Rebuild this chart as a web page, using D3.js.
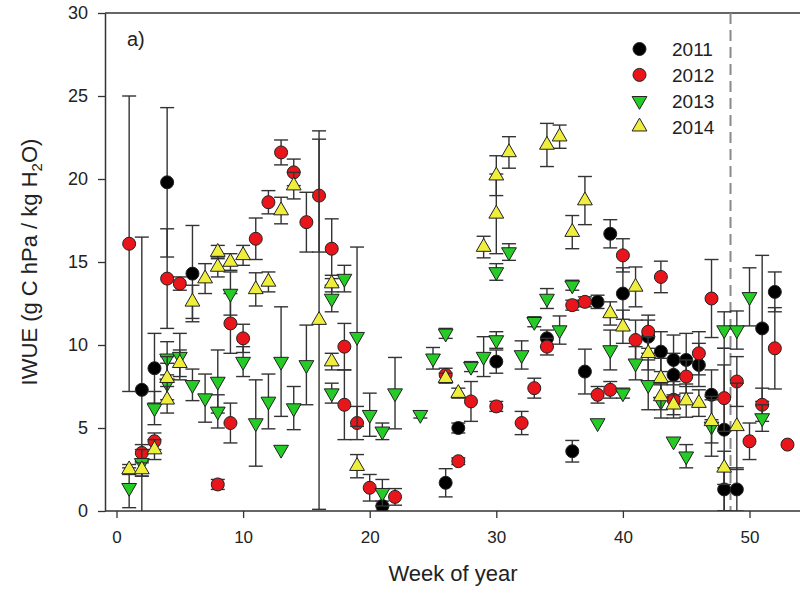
<!DOCTYPE html>
<html>
<head>
<meta charset="utf-8">
<script src="https://cdn.jsdelivr.net/npm/d3@7"></script>
<style>
  html, body { margin: 0; padding: 0; background: #fff; }
  svg { display: block; font-family: "Liberation Sans", Arial, sans-serif; }
</style>
</head>
<body>
<div id="chart"></div>
<script>
// weekly IWUE per year: week, mean, error
const wk2011 = [2,3,4,6,21,26,27,30,34,36,37,38,39,40,42,43,44,44,45,46,47,48,48,49,51,52];
const val2011 = [7.3,8.6,19.8,14.3,0.3,1.7,5.0,9.0,10.4,3.6,8.4,12.6,16.7,13.1,10.5,9.6,9.1,8.2,9.1,8.8,7.0,4.9,1.3,1.3,11.0,13.2];
const err2011 = [9.2,2.1,4.5,2.9,0.3,0.85,0.3,0.7,0.5,0.65,1.35,0.4,0.85,1.55,1.0,1.2,1.5,1.3,1.6,1.3,1.5,4.9,1.3,1.3,4.4,1.2];

const wk2012 = [1,2,3,4,5,8,9,9,10,11,12,13,14,15,16,17,18,18,19,20,22,26,27,28,30,32,33,34,36,37,38,39,40,41,42,43,44,45,46,47,48,49,50,51,52,53];
const val2012 = [16.1,3.5,4.2,14.0,13.7,1.6,11.3,5.3,10.4,16.4,18.6,21.6,20.4,17.4,19.0,15.8,9.9,6.4,5.3,1.4,
  0.85,8.2,3.0,6.6,6.3,5.3,7.4,9.9,12.4,12.6,7.0,7.3,15.4,10.3,10.8,14.1,6.7,8.1,9.5,12.8,6.8,7.8,4.2,6.4,9.8,4.0];
const err2012 = [8.9,0.5,0.5,3.0,0.4,0.3,1.8,1.2,0.85,1.25,0.7,0.75,0.8,1.8,3.4,1.8,1.4,2.1,1.0,0.8,
  0.5,0.4,0.2,1.2,0.3,0.7,0.6,0.5,0.3,0.3,0.5,0.5,1.0,1.2,1.0,0.95,1.1,1.0,1.3,2.35,2.0,1.5,1.1,1.0,2.45,0];

const wk2013 = [1,2,3,4,4,5,6,7,8,8,9,10,11,12,13,13,14,15,17,17,18,19,20,21,21,22,24,25,26,28,
  29,30,30,31,32,33,34,35,36,38,39,40,41,42,43,44,45,47,48,49,50,51];
const val2013 = [1.4,2.9,6.2,9.2,7.7,9.3,7.6,6.8,7.8,6.0,13.1,9.0,5.3,6.6,9.0,3.7,6.2,8.8,12.8,7.1,
  14.0,10.5,5.8,4.8,1.1,7.1,5.8,9.2,10.7,8.7,9.3,10.3,14.4,15.6,9.4,11.4,12.8,10.9,13.6,5.3,
  9.7,7.1,8.9,7.6,6.6,4.2,3.3,5.1,10.9,10.9,12.9,5.6];
const err2013 = [1.2,0.8,1.0,1.0,1.2,1.4,0.95,1.45,1.9,1.0,1.3,0.9,2.6,1.65,3.3,0,1.3,2.4,0.8,0.6,
  0.8,5.4,1.3,0.5,0.8,2.15,0.2,0.65,0.3,0.3,1.2,0.5,0.5,0.5,0.85,0.3,0.6,0.85,0.3,0,
  1.2,0.3,1.0,1.5,1.0,0,0.7,1.8,1.1,1.15,1.75,0.8];

const wk2014 = [1,2,3,4,4,5,6,7,8,8,9,10,11,12,13,14,16,17,17,19,26,27,29,30,30,31,34,35,36,37,
  39,40,41,42,43,43,44,45,46,47,48,49];
const val2014 = [2.5,2.5,3.7,8.0,6.7,8.9,12.6,14.0,14.7,15.6,15.0,15.4,13.35,13.8,18.1,19.6,11.5,13.7,9.0,2.7,
  8.0,7.1,15.9,17.9,20.2,21.6,22.05,22.55,16.8,18.7,11.9,11.1,13.5,9.5,8.0,6.9,6.4,6.65,6.5,5.4,2.6,5.1];
const err2014 = [0.3,0.4,0.6,1.3,0.8,0.8,1.0,0.9,0.6,0.4,0.5,0.6,1.0,0.6,0.8,0.8,11.4,0.5,0.5,0.7,
  0.3,0.3,0.65,2.4,1.2,0.95,1.3,0.7,1.0,1.45,0.7,1.0,1.2,1.0,1.2,0.8,0.6,1.0,0.8,1.3,1.0,2.6];

const years = ['2011', '2012', '2013', '2014'];
const xTicks = [0, 10, 20, 30, 40, 50];
const yTicks = [0, 5, 10, 15, 20, 25, 30];
const cutoffWeek = 48.5;

const width = 800, height = 596;
const plotL = 105, plotT = 13, plotB = 511, plotR = 806;

const svg = d3.select('#chart').append('svg')
  .attr('width', width).attr('height', height);

const x = d3.scaleLinear().domain([0, 50]).range([116.5, 749.5]);
const y = d3.scaleLinear().domain([0, 30]).range([plotB, plotT]);

svg.append('clipPath').attr('id', 'plotclip')
  .append('rect').attr('x', plotL).attr('y', plotT).attr('width', plotR - plotL).attr('height', plotB - plotT);

function makeSeries(wk, val, err) {
  return wk.map((w, i) => ({ w: w, v: val[i], e: err[i] }));
}
const series = [
  { name: years[0], data: makeSeries(wk2011, val2011, err2011), shape: 'circle', fill: '#000000' },
  { name: years[1], data: makeSeries(wk2012, val2012, err2012), shape: 'circle', fill: '#e8151b' },
  { name: years[2], data: makeSeries(wk2013, val2013, err2013), shape: 'down', fill: '#26cc26' },
  { name: years[3], data: makeSeries(wk2014, val2014, err2014), shape: 'up', fill: '#f0ee3c' }
];

// frame: top border
svg.append('line')
  .attr('x1', plotL).attr('x2', plotR).attr('y1', plotT).attr('y2', plotT)
  .attr('stroke', '#333').attr('stroke-width', 1.5);

// dashed cut-off line
svg.append('line')
  .attr('x1', x(cutoffWeek)).attr('x2', x(cutoffWeek))
  .attr('y1', plotT).attr('y2', plotB)
  .attr('stroke', '#8a8a8a').attr('stroke-width', 2)
  .attr('stroke-dasharray', '11,6');

const plot = svg.append('g').attr('clip-path', 'url(#plotclip)');
const tri = d3.symbol().type(d3.symbolTriangle).size(95);

function drawMarker(sel, s) {
  if (s.shape === 'circle') {
    sel.append('circle').attr('r', 6.5)
      .attr('fill', s.fill).attr('stroke', '#222').attr('stroke-width', 1);
  } else {
    sel.append('path').attr('d', tri)
      .attr('transform', s.shape === 'down' ? 'rotate(180)' : null)
      .attr('fill', s.fill).attr('stroke', '#222').attr('stroke-width', 1);
  }
}

series.forEach(s => {
  const g = plot.append('g');
  const bars = g.selectAll('.err').data(s.data.filter(d => d.e > 0)).enter()
    .append('g').attr('class', 'err')
    .attr('stroke', '#333').attr('stroke-width', 1.4);
  bars.append('line')
    .attr('x1', d => x(d.w)).attr('x2', d => x(d.w))
    .attr('y1', d => y(d.v - d.e)).attr('y2', d => y(d.v + d.e));
  bars.append('line')
    .attr('x1', d => x(d.w) - 7).attr('x2', d => x(d.w) + 7)
    .attr('y1', d => y(d.v + d.e)).attr('y2', d => y(d.v + d.e));
  bars.append('line')
    .attr('x1', d => x(d.w) - 7).attr('x2', d => x(d.w) + 7)
    .attr('y1', d => y(d.v - d.e)).attr('y2', d => y(d.v - d.e));

  g.selectAll('.pt').data(s.data).enter()
    .append('g').attr('class', 'pt')
    .attr('transform', d => 'translate(' + x(d.w) + ',' + y(d.v) + ')')
    .each(function() { drawMarker(d3.select(this), s); });
});

// axes
const yAxis = svg.append('g').attr('transform', 'translate(' + plotL + ',0)')
  .call(d3.axisLeft(y).tickValues(yTicks).tickSize(7).tickPadding(10).tickSizeOuter(0));
const xAxis = svg.append('g').attr('transform', 'translate(0,' + plotB + ')')
  .call(d3.axisBottom(x).tickValues(xTicks).tickSize(7).tickPadding(13).tickSizeOuter(0));
xAxis.select('.domain').attr('d', 'M' + plotL + ',0H' + plotR);
[xAxis, yAxis].forEach(a => {
  a.select('.domain').attr('stroke', '#333').attr('stroke-width', 1.5);
  a.selectAll('.tick line').attr('stroke', '#333').attr('stroke-width', 1.3);
  a.selectAll('.tick text').attr('fill', '#222')
    .style('font-size', '18px').style('font-family', '"Liberation Sans", Arial, sans-serif');
});
xAxis.selectAll('.tick text').style('font-size', '17px');

// panel label
svg.append('text').attr('x', 127).attr('y', 46)
  .style('font-size', '20px').attr('fill', '#222').text('a)');

// axis titles
svg.append('text')
  .attr('x', 453).attr('y', 581).attr('text-anchor', 'middle')
  .style('font-size', '22px').attr('fill', '#222').text('Week of year');

const yt = svg.append('text')
  .attr('transform', 'translate(37,262) rotate(-90)')
  .attr('text-anchor', 'middle')
  .style('font-size', '22px').attr('fill', '#222');
yt.append('tspan').text('IWUE (g C hPa / kg H');
yt.append('tspan').attr('dy', 5).style('font-size', '15px').text('2');
yt.append('tspan').attr('dy', -5).text('O)');

// legend
const legend = svg.append('g');
series.forEach((s, i) => {
  const ly = 49 + i * 25.9;
  const m = legend.append('g').attr('transform', 'translate(639.5,' + ly + ')');
  drawMarker(m, s);
  legend.append('text').attr('x', 672).attr('y', ly + 7)
    .style('font-size', '19px').attr('fill', '#222').text(s.name);
});
</script>
</body>
</html>
